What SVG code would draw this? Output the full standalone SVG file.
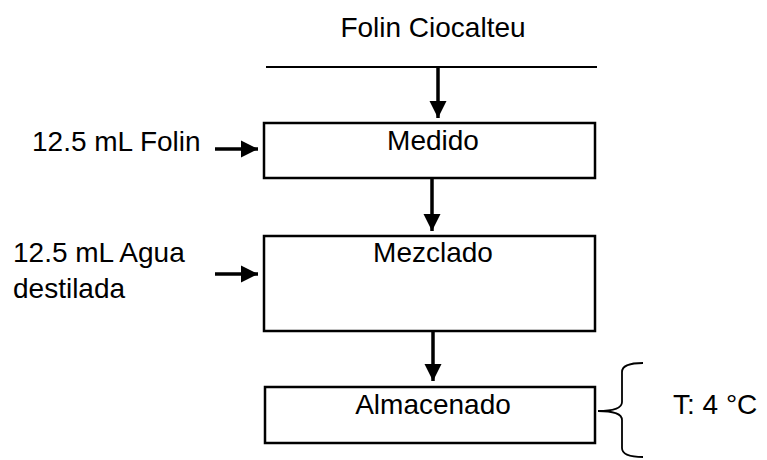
<svg xmlns="http://www.w3.org/2000/svg" width="767" height="460" viewBox="0 0 767 460">
<style>
text{font-family:"Liberation Sans",Arial,sans-serif;font-size:28px;fill:#000}
.box{fill:#fff;stroke:#000;stroke-width:2.5}
.ln{stroke:#000;stroke-width:3.5;fill:none}
.mid{text-anchor:middle}
</style>
<defs>
<marker id="ah" viewBox="0 0 10 10" refX="10" refY="5" markerWidth="5" markerHeight="5" markerUnits="strokeWidth" orient="auto">
<path d="M0,0 L10,5 L0,10 Z" fill="#000"/>
</marker>
</defs>
<rect width="767" height="460" fill="#fff"/>
<g id="connectors">
<line x1="266" y1="67" x2="597" y2="67" stroke="#000" stroke-width="2"/>
<line class="ln" x1="438" y1="67" x2="438" y2="118" marker-end="url(#ah)"/>
<line class="ln" x1="215" y1="149" x2="258" y2="149" marker-end="url(#ah)"/>
<line class="ln" x1="432" y1="178" x2="432" y2="231" marker-end="url(#ah)"/>
<line class="ln" x1="215" y1="274" x2="258" y2="274" marker-end="url(#ah)"/>
<line class="ln" x1="433" y1="331" x2="433" y2="381" marker-end="url(#ah)"/>
<path d="M643,363 Q622,363 622,372 L622,402 Q622,411 598,411 Q622,411 622,420 L622,448 Q622,457 643,457" fill="none" stroke="#000" stroke-width="1.8"/>
</g>
<g id="title"><text class="mid" x="433" y="37">Folin Ciocalteu</text></g>
<g id="medido"><rect class="box" x="264" y="123" width="331" height="55"/><text class="mid" x="433" y="150">Medido</text></g>
<g id="folin-input"><text x="32" y="151">12.5 mL Folin</text></g>
<g id="mezclado"><rect class="box" x="264" y="236" width="331" height="95"/><text class="mid" x="433" y="262">Mezclado</text></g>
<g id="agua-input"><text x="13" y="262">12.5 mL Agua</text><text x="13" y="298">destilada</text></g>
<g id="almacenado"><rect class="box" x="265" y="387" width="330" height="56"/><text class="mid" x="433" y="414">Almacenado</text></g>
<g id="temp"><text x="673" y="414">T: 4 °C</text></g>
</svg>
